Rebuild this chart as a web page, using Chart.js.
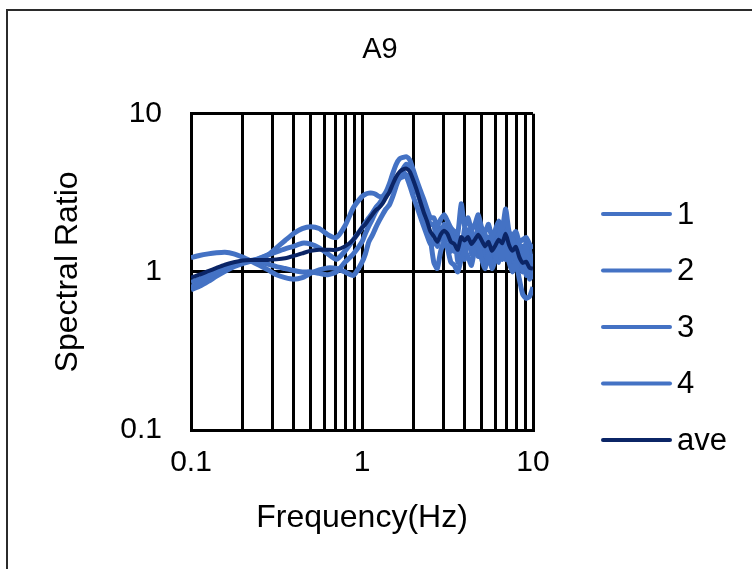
<!DOCTYPE html>
<html><head><meta charset="utf-8">
<script src="https://cdn.jsdelivr.net/npm/chart.js@4.4.1/dist/chart.umd.min.js"></script>
<style>html,body{margin:0;padding:0;background:#fff;}</style>
</head><body>
<canvas id="c" width="752" height="569"></canvas>
<script>
const freq = [0.1,0.112,0.126,0.141,0.158,0.178,0.2,0.224,0.251,0.282,0.316,0.355,0.398,0.447,0.501,0.562,0.631,0.708,0.794,0.891,1.0,
1.047,1.096,1.148,1.202,1.259,1.318,1.38,1.445,1.514,1.585,1.66,1.738,1.82,1.905,1.995,2.089,2.188,2.291,2.399,2.512,
2.63,2.754,2.884,3.02,3.162,3.311,3.467,3.631,3.802,3.981,4.169,4.365,4.571,4.786,5.012,5.248,5.495,5.754,6.026,6.31,
6.607,6.918,7.244,7.586,7.943,8.318,8.71,9.12,9.55,10.0];

const s1 = [1.23,1.27,1.30,1.32,1.33,1.30,1.24,1.17,1.10,1.03,0.96,0.92,0.90,0.92,0.98,1.03,1.06,1.05,1.00,0.95,1.15,
1.3,1.55,1.7,1.9,2.1,2.3,2.5,2.65,3.0,3.5,4.0,4.5,4.8,4.6,4.0,3.4,2.8,2.3,1.95,1.6,
1.15,1.05,1.35,1.55,1.4,1.15,1.1,1.0,1.2,1.35,1.25,1.1,1.4,1.5,1.2,1.05,1.3,1.05,1.2,1.4,
1.2,1.45,1.15,1.0,1.15,0.9,0.72,0.68,0.7,0.8];

const s2 = [0.80,0.85,0.92,0.99,1.06,1.12,1.16,1.18,1.21,1.28,1.42,1.58,1.75,1.88,1.93,1.88,1.72,1.65,1.95,2.55,3.0,
3.1,3.15,3.15,3.1,3.0,3.0,3.2,3.6,4.2,4.8,5.2,5.3,5.35,5.1,4.4,3.8,3.3,2.9,2.5,2.2,
2.2,1.95,2.15,2.3,2.1,1.9,1.8,1.75,2.7,1.95,2.2,1.85,2.0,2.3,1.9,1.8,2.0,1.65,1.85,2.1,
1.85,2.5,1.8,1.7,1.8,1.55,1.6,1.65,1.5,1.4];

const s3 = [0.77,0.81,0.87,0.94,1.01,1.08,1.13,1.17,1.22,1.28,1.34,1.40,1.45,1.52,1.50,1.42,1.30,1.20,1.35,1.60,1.90,
2.05,2.2,2.35,2.55,2.7,2.9,3.1,3.3,3.5,3.9,4.1,4.3,4.0,3.5,3.0,2.6,2.25,1.95,1.7,1.5,
1.5,1.9,1.6,2.0,1.6,1.8,1.35,1.7,1.25,1.9,1.45,1.85,1.4,2.0,1.4,1.75,1.3,1.65,1.2,1.85,
1.35,1.95,1.3,1.65,1.2,1.5,1.0,1.55,0.9,1.3];

const s4 = [0.86,0.90,0.96,1.02,1.08,1.13,1.16,1.17,1.15,1.12,1.08,1.05,1.02,1.00,1.00,0.98,0.96,1.00,1.15,1.30,1.55,
1.75,1.95,2.15,2.4,2.6,2.8,3.0,3.2,3.4,3.7,3.9,4.0,4.1,4.0,3.6,3.2,2.9,2.6,2.3,2.0,
2.0,1.45,1.9,1.6,2.0,1.35,1.8,1.15,1.6,1.2,1.85,1.3,1.7,1.25,1.9,1.2,1.65,1.1,1.65,1.15,
1.75,1.2,1.75,1.1,1.65,1.05,1.45,0.95,1.4,0.9];

const ave = [0.92,0.96,1.01,1.06,1.11,1.15,1.18,1.19,1.19,1.19,1.20,1.22,1.26,1.31,1.36,1.38,1.38,1.38,1.45,1.60,1.90,
2.0,2.15,2.3,2.45,2.55,2.7,2.95,3.2,3.6,4.0,4.3,4.45,4.5,4.3,3.8,3.3,2.8,2.4,2.1,1.8,
1.68,1.55,1.72,1.82,1.74,1.55,1.50,1.38,1.66,1.58,1.66,1.50,1.60,1.72,1.58,1.45,1.55,1.36,1.47,1.60,
1.52,1.74,1.48,1.36,1.44,1.24,1.14,1.16,1.06,1.05];

const seriesLabels = ['1','2','3','4','ave'];
const xTickValues = [0.1,0.2,0.3,0.4,0.5,0.6,0.7,0.8,0.9,1,2,3,4,5,6,7,8,9,10];
const xTickLabels = ['0.1','1','10'];
const yTickValues = [0.1,1,10];
const yTickLabels = ['0.1','1','10'];

const FONT = '"Liberation Sans", Arial, sans-serif';
const BLUE = '#4472C4';
const NAVY = '#0B2566';

function pts(arr){ return freq.map((f,i)=>({x:f, y:arr[i]})); }
function labelAt(v, vals, labs){
  for (let i=0;i<labs.length;i++){ const t=parseFloat(labs[i]); if (Math.abs(v-t)<1e-9*Math.max(1,t)) return labs[i]; }
  return '';
}

const deco = {
  id:'deco',
  beforeDraw(chart){
    const ctx=chart.ctx; ctx.save(); ctx.fillStyle='#fff'; ctx.fillRect(0,0,chart.width,chart.height); ctx.restore();
  },
  afterDraw(chart){
    const ctx=chart.ctx;
    ctx.save();
    ctx.strokeStyle='#2b2b2b'; ctx.lineWidth=2;
    ctx.strokeRect(7,10,780,600);
    const x0=603, x1=670, tx=677, y0=214, dy=56.5;
    chart.data.datasets.forEach((ds,i)=>{
      const y=y0+dy*i;
      ctx.strokeStyle=ds.borderColor; ctx.lineWidth=4; ctx.lineCap='round';
      ctx.beginPath(); ctx.moveTo(x0,y); ctx.lineTo(x1,y); ctx.stroke();
      ctx.fillStyle='#000'; ctx.font='31px '+FONT; ctx.textBaseline='middle'; ctx.textAlign='left';
      ctx.fillText(ds.label, tx, y+1);
    });
    ctx.restore();
  }
};

const mk = (lab, arr, color, w, ord) => ({
  label: lab, data: pts(arr), borderColor: color, backgroundColor: color,
  borderWidth: w, pointRadius: 0, tension: 0.2, fill: false, order: ord
});

new Chart(document.getElementById('c'), {
  type: 'line',
  data: {
    datasets: [
      mk(seriesLabels[0], s1, BLUE, 5, 1),
      mk(seriesLabels[1], s2, BLUE, 5, 1),
      mk(seriesLabels[2], s3, BLUE, 5, 1),
      mk(seriesLabels[3], s4, BLUE, 5, 1),
      mk(seriesLabels[4], ave, NAVY, 4, 0)
    ]
  },
  options: {
    responsive: false,
    animation: false,
    layout: { padding: { left: 8, top: 0, right: 0, bottom: 0 }, autoPadding: false },
    plugins: {
      legend: { display: false },
      tooltip: { enabled: false },
      title: { display: true, text: 'A9', color: '#000', font: { family: FONT, size: 29, weight: 'normal' }, padding: { top: 33, bottom: 46 } }
    },
    scales: {
      x: {
        type: 'logarithmic', position: 'bottom', min: 0.1, max: 10,
        afterBuildTicks: s => { s.ticks = xTickValues.map(v => ({ value: v })); },
        afterFit: s => { s.height = 139; },
        ticks: { autoSkip: false, maxRotation: 0, minRotation: 0, padding: 15, color: '#000',
          font: { family: FONT, size: 30 }, callback: v => labelAt(v, xTickValues, xTickLabels) },
        grid: { color: '#000', lineWidth: 3, drawTicks: false },
        border: { color: '#000', width: 3 },
        title: { display: true, text: 'Frequency(Hz)', color: '#000', font: { family: FONT, size: 32 }, padding: { top: 0, bottom: 32 } }
      },
      y: {
        type: 'logarithmic', position: 'left', min: 0.1, max: 10,
        afterBuildTicks: s => { s.ticks = yTickValues.map(v => ({ value: v })); },
        afterFit: s => { s.width = 183; },
        ticks: { padding: 29, color: '#000', font: { family: FONT, size: 30 }, callback: v => labelAt(v, yTickValues, yTickLabels) },
        grid: { color: '#000', lineWidth: 3, drawTicks: false },
        border: { color: '#000', width: 3 },
        title: { display: true, text: 'Spectral Ratio', color: '#000', font: { family: FONT, size: 32 }, padding: { top: 41, bottom: 0 } }
      },
      yR: {
        type: 'linear', position: 'right', display: true,
        afterFit: s => { s.width = 219; },
        ticks: { display: false }, grid: { display: false }, border: { display: false }
      }
    }
  },
  plugins: [deco]
});
</script>
</body></html>
